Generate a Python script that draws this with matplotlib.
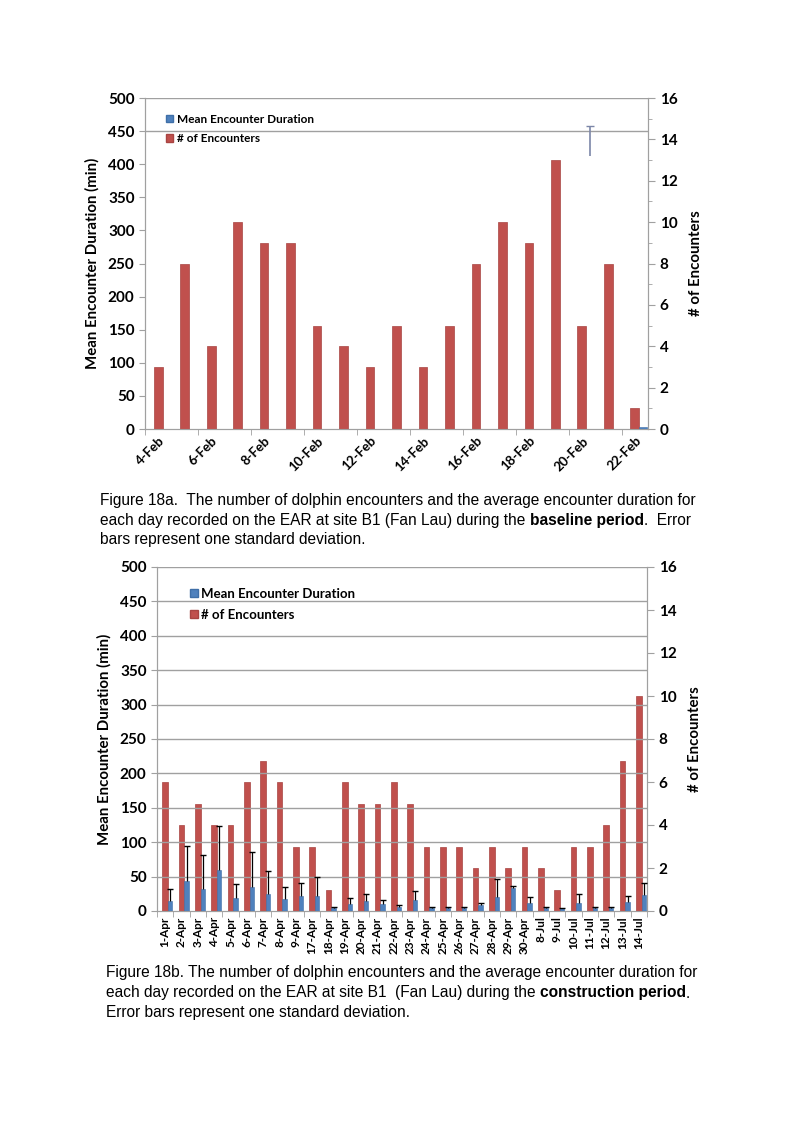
import numpy as np
import matplotlib.pyplot as plt
from matplotlib.patches import Patch

plt.rcParams['font.family'] = ['Lato', 'DejaVu Sans']

RED = '#C0504D'
BLUE = '#4F81BD'
GRID = '#A0A0A0'
nan = np.nan

# ---- baseline period (Feb) ----
feb_days = ['4-Feb', '5-Feb', '6-Feb', '7-Feb', '8-Feb', '9-Feb', '10-Feb', '11-Feb',
            '12-Feb', '13-Feb', '14-Feb', '15-Feb', '16-Feb', '17-Feb', '18-Feb',
            '19-Feb', '20-Feb', '21-Feb', '22-Feb']
feb_encounters = [3, 8, 4, 10, 9, 9, 5, 4, 3, 5, 3, 5, 8, 10, 9, 13, 5, 8, 1]
feb_mean_duration = [nan] * 18 + [3]
# the one stray error bar visible on the baseline chart
feb_err_low = [nan] * 16 + [412, nan, nan]
feb_err_high = [nan] * 16 + [458, nan, nan]

# ---- construction period (Apr / Jul) ----
con_days = ['1-Apr', '2-Apr', '3-Apr', '4-Apr', '5-Apr', '6-Apr', '7-Apr', '8-Apr', '9-Apr',
            '17-Apr', '18-Apr', '19-Apr', '20-Apr', '21-Apr', '22-Apr', '23-Apr', '24-Apr',
            '25-Apr', '26-Apr', '27-Apr', '28-Apr', '29-Apr', '30-Apr', '8-Jul', '9-Jul',
            '10-Jul', '11-Jul', '12-Jul', '13-Jul', '14-Jul']
con_encounters = [6, 4, 5, 4, 4, 6, 7, 6, 3, 3, 1, 6, 5, 5, 6, 5, 3, 3, 3, 2, 3, 2, 3,
                  2, 1, 3, 3, 4, 7, 10]
con_mean_duration = [14, 44, 32, 59, 19, 35, 24, 18, 22, 22, 4, 10, 15, 10, 6, 16, 5,
                     5, 5, 9, 20, 34, 12, 5, 5, 12, 5, 5, 13, 23]
con_sd = [18, 50, 50, 65, 20, 51, 34, 17, 18, 28, 2, 9, 10, 6, 3, 13, 1, 1, 1, 2, 27,
          3, 8, 1, 0, 12, 1, 1, 9, 18]

W, H = 793, 1123
fig = plt.figure(figsize=(W / 100, H / 100), dpi=100)


def rect(l, t, r, b):
    return [l / W, 1 - b / H, (r - l) / W, (b - t) / H]


def panel(box, days, counts, means, label_step, rot, xfs, legend_xy, legend_fs, grid_all):
    ax = fig.add_axes(rect(*box))
    ax2 = ax.twinx()
    n = len(days)
    x = np.arange(n)

    ax2.bar(x, counts, width=0.33, color=RED, edgecolor='#A84442', linewidth=0.5, zorder=3)
    ax.bar(x + 0.31, means, width=0.27, color=BLUE, edgecolor='#3F6FA8', linewidth=0.4, zorder=3)

    ax.set_xlim(-0.5, n - 0.5)
    ax.set_ylim(0, 500)
    ax2.set_ylim(0, 16)
    ax.set_yticks(np.arange(0, 501, 50))
    ax2.set_yticks(np.arange(0, 17, 2))
    ax2.set_yticks(np.arange(0, 17, 1), minor=True)

    if grid_all:
        for v in np.arange(50, 501, 50):
            ax.axhline(v, color=GRID, lw=1, zorder=0)
    else:
        for v in (450, 500):
            ax.axhline(v, color=GRID, lw=1, zorder=0)

    ax.set_xticks(x[::label_step])
    if rot == 90:
        ax.set_xticklabels(days[::label_step], rotation=90, fontsize=xfs, fontweight='bold')
    else:
        ax.set_xticklabels(days[::label_step], rotation=rot, ha='right',
                           rotation_mode='anchor', fontsize=xfs, fontweight='bold')
    ax.set_xticks(np.arange(-0.5, n, label_step), minor=True)
    ax.tick_params(axis='x', which='major', length=0, pad=4)
    ax.tick_params(axis='x', which='minor', length=4, color=GRID)

    for a in (ax, ax2):
        for s in a.spines.values():
            s.set_color(GRID)
        a.spines['top'].set_visible(False)
    ax.tick_params(axis='y', length=4, color=GRID, labelsize=11)
    ax2.tick_params(axis='y', which='major', length=5, color=GRID, labelsize=11)
    ax2.tick_params(axis='y', which='minor', length=3 if not grid_all else 0, color=GRID)
    for t in ax.get_yticklabels() + ax2.get_yticklabels():
        t.set_fontweight('bold')

    ax.set_ylabel('Mean Encounter Duration (min)', fontsize=10.8, fontweight='bold', labelpad=6)
    ax2.set_ylabel('# of Encounters', fontsize=10.8, fontweight='bold', labelpad=8)

    handles = [Patch(facecolor=BLUE, edgecolor='#3F6FA8'), Patch(facecolor=RED, edgecolor='#A84442')]
    ax2.legend(handles, ['Mean Encounter Duration', '# of Encounters'], loc='upper left',
               bbox_to_anchor=(legend_xy[0] / W, 1 - legend_xy[1] / H),
               bbox_transform=fig.transFigure, frameon=False, borderpad=0,
               handlelength=0.6, handleheight=0.6, handletextpad=0.3,
               labelspacing=0.7, prop={'weight': 'bold', 'size': legend_fs})
    ax2.set_zorder(ax.get_zorder() - 1)
    ax.patch.set_visible(False)
    return ax, ax2


def upper_errorbar(ax, x, low, high, color, lw, cap):
    low = np.asarray(low, dtype=float)
    high = np.asarray(high, dtype=float)
    _, caps, _ = ax.errorbar(x, low, yerr=[np.zeros_like(low), high - low], fmt='none',
                             ecolor=color, elinewidth=lw, capsize=cap, zorder=4)
    caps[0].set_visible(False)  # only the top cap, as in the original


ax_a, ax_a2 = panel((145, 98, 648, 429), feb_days, feb_encounters, feb_mean_duration,
                    2, 45, 9.5, (160, 108), 8.5, False)
upper_errorbar(ax_a, np.arange(len(feb_days)) + 0.31, feb_err_low, feb_err_high,
               '#7C86A8', 1.2, 3)

ax_b, ax_b2 = panel((157, 567, 647, 911), con_days, con_encounters, con_mean_duration,
                    1, 90, 8.5, (183, 581), 9.5, True)
con_top = np.array(con_mean_duration) + np.array(con_sd)
upper_errorbar(ax_b, np.arange(len(con_days)) + 0.31, con_mean_duration, con_top,
               'black', 0.9, 2.5)


# ---- captions with bold fragments ----
CAP = dict(fontsize=11.2, family=['Liberation Sans', 'DejaVu Sans'])


def caption_line(x, y, parts):
    t = fig.text(x / W, 1 - y / H, parts[0][0], va='center', ha='left',
                 fontweight=parts[0][1], **CAP)
    for s, w, gap in parts[1:]:
        t = ax_a.annotate(s, xy=(1, 0), xycoords=t, xytext=(gap, 0),
                          textcoords='offset points', va='bottom', ha='left',
                          fontweight=w, **CAP)


caption_line(100, 500, [('Figure 18a.  The number of dolphin encounters and the average '
                         'encounter duration for', 'normal')])
caption_line(100, 520, [('each day recorded on the EAR at site B1 (Fan Lau) during the', 'normal'),
                        ('baseline period', 'bold', 3),
                        ('.  Error', 'normal', 0)])
caption_line(100, 540, [('bars represent one standard deviation.', 'normal')])

caption_line(106, 973, [('Figure 18b. The number of dolphin encounters and the average '
                         'encounter duration for', 'normal')])
caption_line(106, 993, [('each day recorded on the EAR at site B1  (Fan Lau) during the', 'normal'),
                        ('construction period', 'bold', 3),
                        ('.', 'normal', 0)])
caption_line(106, 1013, [('Error bars represent one standard deviation.', 'normal')])

fig.savefig('out.png', dpi=100)
